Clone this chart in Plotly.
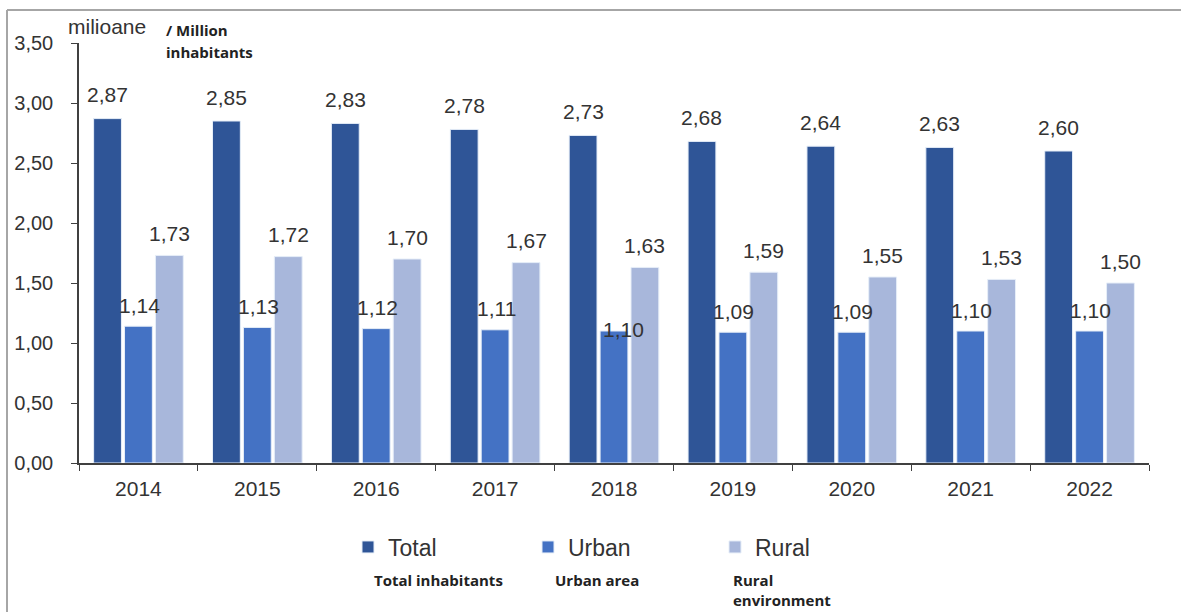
import plotly.graph_objects as go

years = ["2014", "2015", "2016", "2017", "2018", "2019", "2020", "2021", "2022"]
total = [2.87, 2.85, 2.83, 2.78, 2.73, 2.68, 2.64, 2.63, 2.60]
urban = [1.14, 1.13, 1.12, 1.11, 1.10, 1.09, 1.09, 1.10, 1.10]
rural = [1.73, 1.72, 1.70, 1.67, 1.63, 1.59, 1.55, 1.53, 1.50]
series_names = ["Total", "Urban", "Rural"]
series_desc = [["Total inhabitants"], ["Urban area"], ["Rural", "environment"]]
y_ticks = [0, 0.5, 1.0, 1.5, 2.0, 2.5, 3.0, 3.5]
y_ticktext = ["0,00", "0,50", "1,00", "1,50", "2,00", "2,50", "3,00", "3,50"]
unit_ro = "milioane"
unit_en_1 = "/ Million"
unit_en_2 = "inhabitants"

colors = ["#2F5597", "#4472C4", "#A8B7DB"]
W, H = 1181, 612
L, R, T, B = 79, 32, 43, 149
pw, ph = W - L - R, H - T - B

def px_x(x):
    return (x - L) / pw

def px_y(y):
    return (H - B - y) / ph

def fmt(v):
    return f"{v:.2f}".replace(".", ",")

ARIAL = "Liberation Sans, Arial, sans-serif"
BOLD = "Open Sans, Lato, sans-serif"

legend_ids = ["legend", "legend2", "legend3"]
legend_text_x = [385, 565, 752]

fig = go.Figure()
for name, vals, col, lid in zip(series_names, [total, urban, rural], colors, legend_ids):
    fig.add_trace(go.Bar(
        x=years, y=vals, name=name, legend=lid,
        marker=dict(color=col, line=dict(color="#E6EEF8", width=1)),
    ))

lab_font = dict(family=ARIAL, size=21, color="#333333")
annotations = []
cat_w = pw / len(years)
slot = cat_w * 0.78 / 3
for i, (vals, dx, dy) in enumerate(zip([total, urban, rural], [-slot, 1, slot], [24, 21, 22])):
    for k, (yr, v) in enumerate(zip(years, vals)):
        sx, sy = dx, dy
        if i == 1 and yr == "2018":
            sx, sy = dx + 8, 2
        annotations.append(dict(
            x=k, y=v, xref="x", yref="y", text=fmt(v), showarrow=False,
            xshift=sx, yshift=sy, yanchor="middle", font=lab_font,
        ))

# unit titles
annotations.append(dict(
    x=px_x(66), y=px_y(27), xref="paper", yref="paper",
    text=unit_ro, showarrow=False, xanchor="left", yanchor="middle",
    font=dict(family=ARIAL, size=21, color="#333333"),
))
for txt, yy in [(unit_en_1, 30), (unit_en_2, 52)]:
    annotations.append(dict(
        x=px_x(164), y=px_y(yy), xref="paper", yref="paper",
        text="<b>" + txt + "</b>", showarrow=False, xanchor="left", yanchor="middle",
        font=dict(family=BOLD, size=15, color="#222222"),
    ))

# legend descriptions
desc_x = [372, 553, 731]
line_y = [580, 600]
for dxp, lines in zip(desc_x, series_desc):
    for txt, yy in zip(lines, line_y):
        annotations.append(dict(
            x=px_x(dxp), y=px_y(yy), xref="paper", yref="paper",
            text="<b>" + txt + "</b>", showarrow=False, xanchor="left", yanchor="middle",
            font=dict(family=BOLD, size=15, color="#222222"),
        ))

shapes = [
    dict(type="line", xref="paper", yref="paper",
         x0=px_x(7), x1=px_x(W + 5), y0=px_y(10), y1=px_y(10),
         line=dict(color="#A6A6A6", width=2)),
    dict(type="line", xref="paper", yref="paper",
         x0=px_x(7), x1=px_x(7), y0=px_y(10), y1=px_y(H + 5),
         line=dict(color="#A6A6A6", width=2)),
]

legend_common = dict(
    orientation="h", xanchor="left", yanchor="middle",
    font=dict(family=ARIAL, size=23, color="#333333"),
    bgcolor="rgba(0,0,0,0)",
)
legends = {}
for lid, tx in zip(legend_ids, legend_text_x):
    legends[lid] = dict(legend_common, x=px_x(tx - 37), y=px_y(547))

fig.update_layout(
    width=W, height=H,
    margin=dict(l=L, r=R, t=T, b=B, autoexpand=False),
    paper_bgcolor="white", plot_bgcolor="white",
    barmode="group", bargap=0.22, bargroupgap=0.1,
    font=dict(family=ARIAL, size=20, color="#333333"),
    showlegend=True,
    annotations=annotations,
    shapes=shapes,
    xaxis=dict(
        type="category", range=[-0.5, len(years) - 0.5],
        showline=True, linecolor="#404040", linewidth=1.5,
        ticks="outside", tickson="boundaries", ticklen=6, tickcolor="#404040",
        showgrid=False, tickfont=dict(family=ARIAL, size=21, color="#333333"),
        ticklabelstandoff=6,
    ),
    yaxis=dict(
        range=[0, 3.5], tickvals=y_ticks, ticktext=y_ticktext,
        showline=True, linecolor="#404040", linewidth=1.5,
        ticks="outside", ticklen=6, tickcolor="#404040",
        showgrid=False, zeroline=False, tickfont=dict(family=ARIAL, size=20, color="#333333"),
        ticklabelstandoff=14,
    ),
    **legends,
)

fig.write_html("out.html")
